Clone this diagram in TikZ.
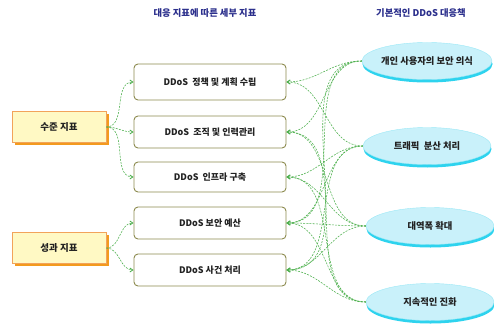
\documentclass[tikz,border=0pt]{standalone}
\usepackage{fontspec}
\setmainfont{Noto Sans CJK KR}
\usetikzlibrary{shadows,arrows.meta,shapes.geometric}
\definecolor{titleblue}{HTML}{2B2F8C}
\definecolor{boxborder}{HTML}{8C8A4E}
\definecolor{lfill}{HTML}{FFF9C4}
\definecolor{lborder}{HTML}{F2A35A}
\definecolor{lshadow}{HTML}{F39A1E}
\definecolor{efill}{HTML}{C9F1FA}
\definecolor{eshadow}{HTML}{2ED3EE}
\definecolor{conncol}{HTML}{4CAF4C}
\definecolor{txt}{HTML}{222222}
\tikzset{
  ttl/.style={text=titleblue, font=\fontsize{9.3}{10}\selectfont\bfseries},
  midbox/.style={draw=boxborder, line width=0.9pt, rounded corners=4pt, fill=white, text=txt,
    minimum width=152pt, minimum height=33pt, inner sep=0pt, font=\fontsize{9}{10}\selectfont\bfseries},
  leftbox/.style={draw=lborder, line width=0.6pt, fill=lfill, minimum width=94pt, minimum height=31pt, text=txt,
    inner sep=0pt, font=\fontsize{9.5}{10}\selectfont\bfseries,
    drop shadow={shadow xshift=2.5pt, shadow yshift=-2.5pt, fill=lshadow, opacity=1}},
  ell/.style={ellipse, draw=efill!70!eshadow, line width=0.4pt, fill=efill, minimum width=128pt, minimum height=37pt,
    inner sep=0pt, text=txt, font=\fontsize{9.3}{10}\selectfont\bfseries,
    drop shadow={shadow xshift=0.5pt, shadow yshift=-3pt, fill=eshadow, opacity=1}},
  conn/.style={draw=conncol, dashed, dash pattern=on 2pt off 1.2pt, line width=0.55pt,
    -{Straight Barb[length=3pt,width=4pt,line width=0.8pt]}},
}
\begin{document}
\begin{tikzpicture}[x=1pt,y=-1pt]
\useasboundingbox (0,0) rectangle (494,326);
\node[ttl] (t1) at (205,13) {대응 지표에 따른 세부 지표};
\node[ttl] (t2) at (421,13) {기본적인 DDoS 대응책};

\node[midbox, minimum height=36pt] (b1) at (210,82) {DDoS\ \ 정책 및 계획 수립};
\node[midbox, minimum height=32pt] (b2) at (210,132) {DDoS\ \ 조직 및 인력관리};
\node[midbox, minimum height=30pt] (b3) at (210,177) {DDoS\ \ 인프라 구축};
\node[midbox, minimum height=32pt] (b4) at (210,223) {DDoS 보안 예산};
\node[midbox, minimum height=32pt] (b5) at (210,270) {DDoS 사건 처리};

\node[leftbox] (l1) at (59,127) {수준 지표};
\node[leftbox] (l2) at (59,248) {성과 지표};

\node[ell] (e1) at (427,61) {개인 사용자의 보안 의식};
\node[ell] (e2) at (427,146) {트래픽\ \ 분산 처리};
\node[ell] (e3) at (430,226) {대역폭 확대};
\node[ell] (e4) at (430,302) {지속적인 진화};

\foreach \b in {b1,b2,b3} \draw[conn] (l1.east) to[out=0,in=180] (\b.west);
\foreach \b in {b4,b5} \draw[conn] (l2.east) to[out=0,in=180] (\b.west);

\foreach \b in {b1,b2,b4,b5} \draw[conn] (e1.west) to[out=180,in=0] (\b.east);
\foreach \b in {b1,b3,b4,b5} \draw[conn] (e2.west) to[out=180,in=0] (\b.east);
\foreach \b in {b2,b3,b4,b5} \draw[conn] (e3.west) to[out=180,in=0] (\b.east);
\foreach \b in {b2,b3,b4,b5} \draw[conn] (e4.west) to[out=180,in=0] (\b.east);
\end{tikzpicture}
\end{document}
